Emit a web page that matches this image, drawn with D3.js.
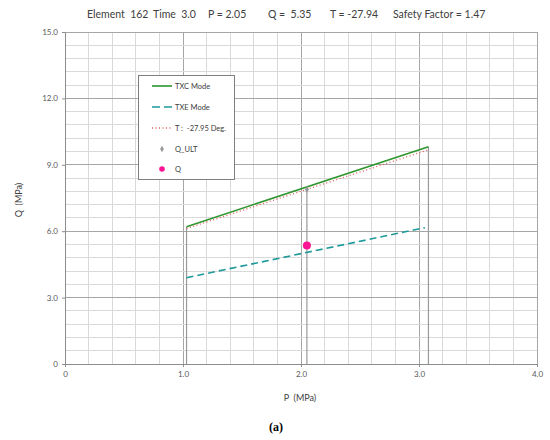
<!DOCTYPE html>
<html><head><meta charset="utf-8">
<script src="https://cdn.jsdelivr.net/npm/d3@7/dist/d3.min.js"></script>
<style>body{margin:0;background:#fff}svg{display:block}text{font-family:Lato,"Open Sans",sans-serif}</style>
</head><body>
<script>
// ---- data ----
const titleParts = [
  {t:"Element  162", x:87}, {t:"Time  3.0", x:153}, {t:"P = 2.05", x:208},
  {t:"Q =  5.35", x:268}, {t:"T = -27.94", x:330}, {t:"Safety Factor = 1.47", x:393}
];
const xTicks = [0, 1.0, 2.0, 3.0, 4.0];
const xTickLabels = ["0", "1.0", "2.0", "3.0", "4.0"];
const yTicks = [0, 3.0, 6.0, 9.0, 12.0, 15.0];
const yTickLabels = ["0", "3.0", "6.0", "9.0", "12.0", "15.0"];
const txcP = [1.03, 3.08];
const txcQ = [6.20, 9.82];
const txeP = [1.03, 3.05];
const txeQ = [3.90, 6.16];
const tP = [1.03, 3.08];
const tQ = [6.12, 9.68];
const dropP = [1.03, 2.05, 3.08];
const dropQ = [6.20, 7.88, 9.82];
const qultP = [2.05];
const qultQ = [7.88];
const qP = [2.05];
const qQ = [5.35];
const legendLabels = ["TXC Mode", "TXE Mode", "T :  -27.95 Deg.", "Q_ULT", "Q"];

// ---- drawing ----
const nb = s => s.replace(/ /g, "\u00A0");
const W = 550, H = 440;
const svg = d3.select("body").append("svg").attr("width", W).attr("height", H);
const x = d3.scaleLinear().domain([0, 4]).range([65, 537]);
const y = d3.scaleLinear().domain([0, 15]).range([364, 32]);

// grid
const g = svg.append("g");
const minorX = d3.range(0, 4.0001, 0.2), minorY = d3.range(0, 15.0001, 0.6);
g.selectAll(".mx").data(minorX).join("line")
  .attr("x1", d => x(d)).attr("x2", d => x(d)).attr("y1", y(0)).attr("y2", y(15))
  .attr("stroke", d => Math.abs(d - Math.round(d)) < 1e-6 ? "#a6a6a6" : "#d9d9d9").attr("stroke-width", 1).attr("shape-rendering", "crispEdges");
g.selectAll(".my").data(minorY).join("line")
  .attr("x1", x(0)).attr("x2", x(4)).attr("y1", d => y(d)).attr("y2", d => y(d))
  .attr("stroke", d => Math.abs(d / 3 - Math.round(d / 3)) < 1e-6 ? "#a6a6a6" : "#d9d9d9").attr("stroke-width", 1).attr("shape-rendering", "crispEdges");

// axes
const ax = svg.append("g").attr("transform", `translate(0,${y(0)})`)
  .call(d3.axisBottom(x).tickValues(xTicks).tickFormat((d, i) => xTickLabels[i]).tickSize(3).tickPadding(4));
const ay = svg.append("g").attr("transform", `translate(${x(0)},0)`)
  .call(d3.axisLeft(y).tickValues(yTicks).tickFormat((d, i) => yTickLabels[i]).tickSize(3).tickPadding(4));
[ax, ay].forEach(a => {
  a.select(".domain").attr("stroke", "#8c8c8c");
  a.selectAll(".tick line").attr("stroke", "#8c8c8c");
  a.selectAll("text").attr("fill", "#595959").style("font-size", "8px").style("font-family", "Lato,sans-serif");
});

// drop lines
svg.selectAll(".drop").data(dropP).join("line")
  .attr("x1", d => x(d)).attr("x2", d => x(d)).attr("y1", y(0)).attr("y2", (d, i) => y(dropQ[i]))
  .attr("stroke", "#999").attr("stroke-width", 1.2);

const line = d3.line().x(d => x(d[0])).y(d => y(d[1]));
const pts = (P, Q) => P.map((p, i) => [p, Q[i]]);
svg.append("path").attr("d", line(pts(tP, tQ))).attr("fill", "none").attr("stroke", "#e05a5a").attr("stroke-width", 1.3).attr("stroke-dasharray", "1,2.5");
svg.append("path").attr("d", line(pts(txcP, txcQ))).attr("fill", "none").attr("stroke", "#2e962e").attr("stroke-width", 1.6);
svg.append("path").attr("d", line(pts(txeP, txeQ))).attr("fill", "none").attr("stroke", "#1f9a9a").attr("stroke-width", 1.6).attr("stroke-dasharray", "7,4");

svg.selectAll(".qult").data(qultP).join("path")
  .attr("d", d3.symbol(d3.symbolDiamond, 14)())
  .attr("transform", (d, i) => `translate(${x(d)},${y(qultQ[i])})`).attr("fill", "#999");
svg.selectAll(".q").data(qP).join("circle")
  .attr("cx", d => x(d)).attr("cy", (d, i) => y(qQ[i])).attr("r", 4).attr("fill", "#ff1493");

// legend
const lg = svg.append("g");
lg.append("rect").attr("x", 138.5).attr("y", 75.5).attr("width", 96).attr("height", 104)
  .attr("fill", "#fff").attr("stroke", "#7f7f7f").attr("stroke-width", 1);
const ly = [86, 107, 128, 149, 169];
legendLabels.forEach((t, i) => {
  const yy = ly[i];
  if (i === 0) lg.append("line").attr("x1", 152).attr("x2", 172).attr("y1", yy).attr("y2", yy).attr("stroke", "#2e962e").attr("stroke-width", 1.6);
  if (i === 1) lg.append("line").attr("x1", 152).attr("x2", 172).attr("y1", yy).attr("y2", yy).attr("stroke", "#1f9a9a").attr("stroke-width", 1.6).attr("stroke-dasharray", "8,4");
  if (i === 2) lg.append("line").attr("x1", 152).attr("x2", 172).attr("y1", yy).attr("y2", yy).attr("stroke", "#e05a5a").attr("stroke-width", 1.3).attr("stroke-dasharray", "1,2.5");
  if (i === 3) lg.append("path").attr("d", d3.symbol(d3.symbolDiamond, 12)()).attr("transform", `translate(162,${yy})`).attr("fill", "#999");
  if (i === 4) lg.append("circle").attr("cx", 162).attr("cy", yy).attr("r", 2.8).attr("fill", "#ff1493");
  lg.append("text").attr("x", 175).attr("y", yy + 3).text(nb(t)).style("font-size", "7.5px").attr("fill", "#404040");
});

// titles
svg.selectAll(".tt").data(titleParts).join("text")
  .attr("x", d => d.x).attr("y", 18).text(d => nb(d.t)).style("font-size", "10.5px").attr("fill", "#404040");
svg.append("text").attr("x", 300).attr("y", 401).attr("text-anchor", "middle")
  .text(nb("P  (MPa)")).style("font-size", "9px").attr("fill", "#404040");
svg.append("text").attr("transform", "translate(22,200) rotate(-90)").attr("text-anchor", "middle")
  .text(nb("Q  (MPa)")).style("font-size", "9px").attr("fill", "#404040");
svg.append("text").attr("x", 276).attr("y", 431).attr("text-anchor", "middle")
  .text("(a)").style("font-size", "12px").style("font-weight", "bold").style("font-family", "'Liberation Serif',serif").attr("fill", "#000");
</script>
</body></html>
